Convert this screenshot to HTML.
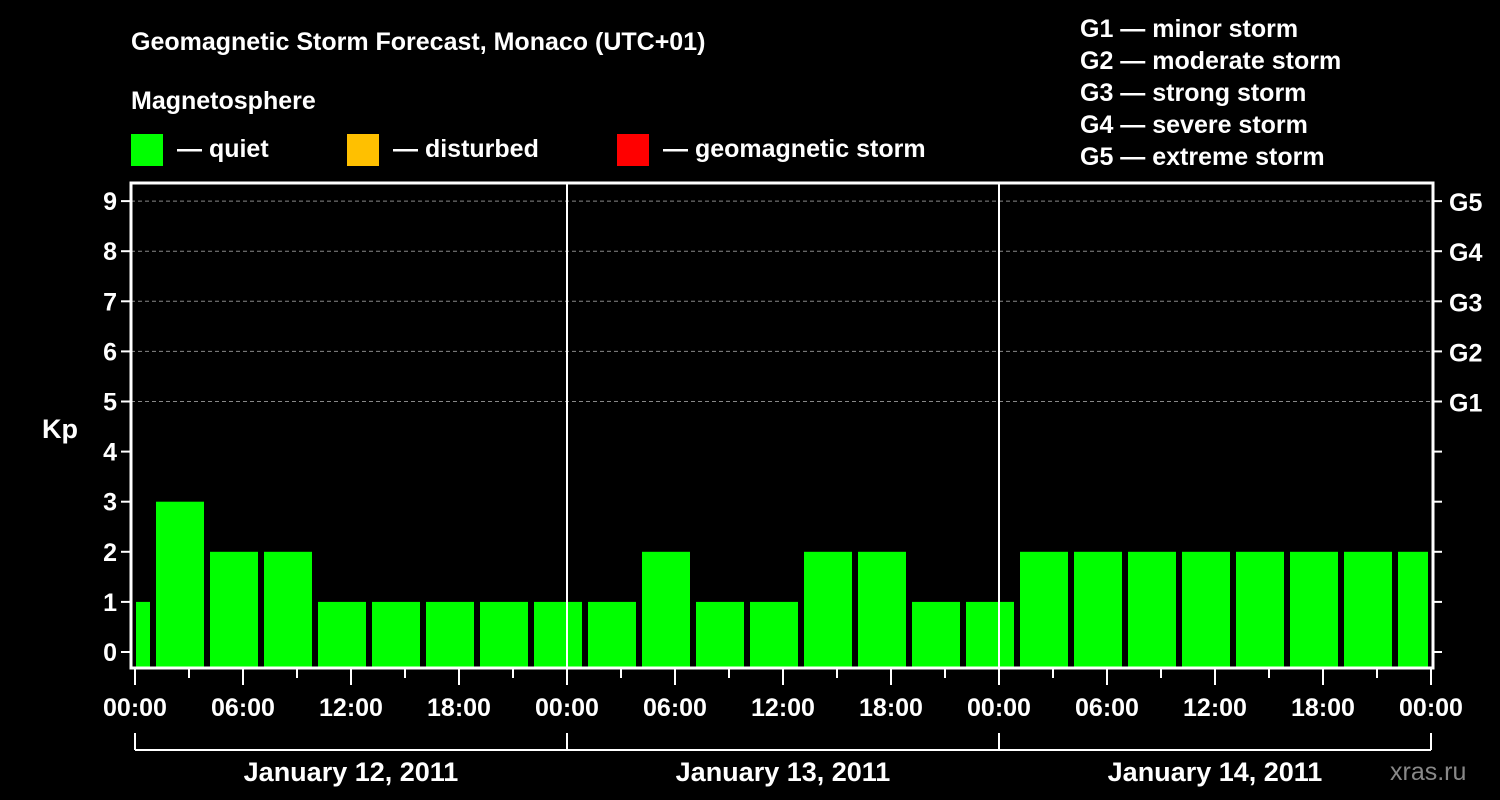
<!DOCTYPE html>
<html><head><meta charset="utf-8"><style>
body{margin:0;background:#000;}
svg{display:block;font-family:"Liberation Sans",Arial,sans-serif;font-weight:bold;}
</style></head><body>
<svg width="1500" height="800" viewBox="0 0 1500 800">
<rect width="1500" height="800" fill="#000"/>
<text x="131" y="50" fill="#fff" font-size="25">Geomagnetic Storm Forecast, Monaco (UTC+01)</text>
<text x="131" y="109" fill="#fff" font-size="25">Magnetosphere</text>
<g><rect x="131" y="134" width="32" height="32" fill="#00ff00"/><text x="177" y="157" fill="#fff" font-size="25">— quiet</text></g>
<g><rect x="347" y="134" width="32" height="32" fill="#ffc000"/><text x="393" y="157" fill="#fff" font-size="25">— disturbed</text></g>
<g><rect x="617" y="134" width="32" height="32" fill="#ff0000"/><text x="663" y="157" fill="#fff" font-size="25">— geomagnetic storm</text></g>
<g fill="#fff" font-size="25">
<text x="1080" y="37">G1 — minor storm</text>
<text x="1080" y="69">G2 — moderate storm</text>
<text x="1080" y="101">G3 — strong storm</text>
<text x="1080" y="133">G4 — severe storm</text>
<text x="1080" y="165">G5 — extreme storm</text>
</g>
<text x="42" y="438" fill="#fff" font-size="27">Kp</text>
<text x="1390" y="780" fill="#888" font-size="25" font-weight="normal">xras.ru</text>
<g id="grid"></g>
<g id="bars"></g>
<g id="axes"></g>
</svg>
<script>
const kpValues = [1,3,2,2,1,1,1,1,1,1,2,1,1,2,2,1,1,2,2,2,2,2,2,2,2];
const yTicks = [0,1,2,3,4,5,6,7,8,9];
const gLabels = ["G1","G2","G3","G4","G5"];
const xTickLabels = ["00:00","06:00","12:00","18:00","00:00","06:00","12:00","18:00","00:00","06:00","12:00","18:00","00:00"];
const dayLabels = ["January 12, 2011","January 13, 2011","January 14, 2011"];
const binStartHour = -2; // first 3h bin starts 22:00 prev day (local)
const NS="http://www.w3.org/2000/svg";
const x0=135, pxHour=18, y0=652, pxKp=50.1;
const L=131, R=1433, T=183, B=668;
const xs=h=>x0+h*pxHour, ys=v=>y0-v*pxKp;
function mk(t,a,p){const e=document.createElementNS(NS,t);for(const k in a)e.setAttribute(k,a[k]);p.appendChild(e);return e;}
const grid=document.getElementById('grid'), bars=document.getElementById('bars'), axes=document.getElementById('axes');
yTicks.forEach(v=>{if(v>=5){const l=mk('line',{x1:L,x2:R,y1:ys(v),y2:ys(v),stroke:'#888','stroke-dasharray':'4,3'},grid);

}});
kpValues.forEach((v,i)=>{
 let a=xs(binStartHour+i*3)+3, b=xs(binStartHour+(i+1)*3)-3;
 a=Math.max(a,L+5); b=Math.min(b,R-5);
 const r=mk('rect',{x:a,y:ys(v),width:b-a,height:B-ys(v),fill:v>=5?'#ff0000':(v>=4?'#ffc000':'#00ff00')},bars);
 
 
});
[1,2].forEach(d=>{const l=mk('line',{x1:xs(d*24),x2:xs(d*24),y1:T,y2:B,stroke:'#fff','stroke-width':2},axes);

});
const fr=mk('rect',{x:L,y:T,width:R-L,height:B-T,fill:'none',stroke:'#fff','stroke-width':3},axes);


yTicks.forEach(v=>{
 mk('line',{x1:L-10,x2:L,y1:ys(v),y2:ys(v),stroke:'#fff','stroke-width':2},axes);
 mk('line',{x1:R,x2:R+9,y1:ys(v),y2:ys(v),stroke:'#fff','stroke-width':2},axes);
 const t=mk('text',{x:L-14,y:ys(v)+9,'text-anchor':'end',fill:'#fff','font-size':25},axes);t.textContent=v;
 
 
 if(v>=5){const g=mk('text',{x:R+16,y:ys(v)+10,fill:'#fff','font-size':25},axes);g.textContent=gLabels[v-5];
 
 }
});
for(let h=0;h<=72;h+=3){mk('line',{x1:xs(h),x2:xs(h),y1:B,y2:B+(h%6===0?17:10),stroke:'#fff','stroke-width':2},axes);}
xTickLabels.forEach((s,i)=>{const t=mk('text',{x:xs(i*6),y:716,'text-anchor':'middle',fill:'#fff','font-size':25},axes);t.textContent=s;
 
 });
mk('line',{x1:xs(0),x2:xs(72),y1:750,y2:750,stroke:'#fff','stroke-width':2},axes);
for(let d=0;d<=3;d++)mk('line',{x1:xs(d*24),x2:xs(d*24),y1:733,y2:750,stroke:'#fff','stroke-width':2},axes);
dayLabels.forEach((s,i)=>{const t=mk('text',{x:xs(i*24+12),y:781,'text-anchor':'middle',fill:'#fff','font-size':27},axes);t.textContent=s;
 
 });
</script>
</body></html>
